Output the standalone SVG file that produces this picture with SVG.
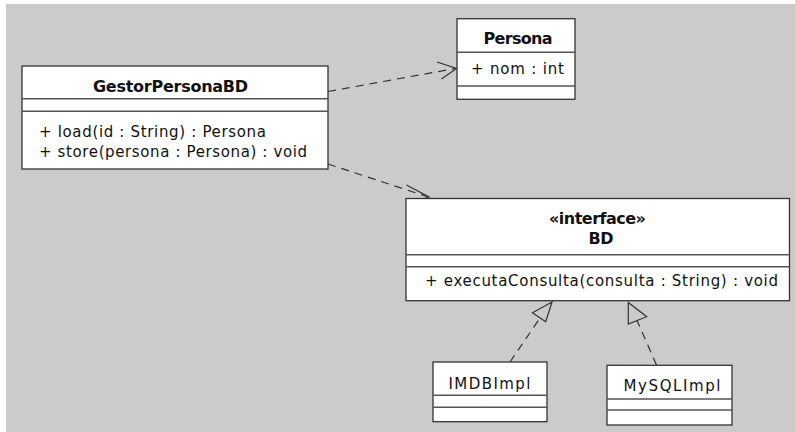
<svg xmlns="http://www.w3.org/2000/svg" width="795" height="432" viewBox="0 0 795 432">
  <style>
    .bg { fill: #cbcbcb; }
    .box { fill: #ffffff; stroke: #333333; stroke-width: 1.3; }
    .sep { stroke: #555555; stroke-width: 1.6; fill: none; }
    .dash { stroke: #333333; stroke-width: 1.2; fill: none; stroke-dasharray: 8 6; }
    .open { stroke: #333333; stroke-width: 1.2; fill: none; }
    .tri { stroke: #333333; stroke-width: 1.2; fill: #cbcbcb; }
    text { font-family: "DejaVu Sans", "Open Sans", sans-serif; fill: #111111; font-size: 15px; }
    .title { font-weight: bold; font-size: 16px; text-anchor: middle; }
    .name { text-anchor: middle; }
  </style>
  <rect x="0" y="0" width="795" height="432" fill="#ffffff"/>
  <rect class="bg" x="6" y="4" width="789" height="428"/>

  <g id="connectors">
    <!-- dependency GestorPersonaBD -> Persona -->
    <line class="dash" x1="328" y1="91.5" x2="455" y2="68.5"/>
    <polyline class="open" points="437,62 456.5,68.5 441.5,79"/>
    <!-- dependency GestorPersonaBD -> BD -->
    <line class="dash" x1="328" y1="164" x2="427" y2="196.5"/>
    <polyline class="open" points="406.5,185 429,197 413,202.5"/>
    <!-- realization IMDBImpl -> BD -->
    <line class="dash" x1="510" y1="362" x2="540" y2="318"/>
    <polygon class="tri" points="552,302 532.5,312.7 545.7,321.7"/>
    <!-- realization MySQLImpl -> BD -->
    <line class="dash" x1="656.5" y1="365" x2="637" y2="320.5"/>
    <polygon class="tri" points="628.3,302.5 628.3,324 646.7,316.7"/>
  </g>

  <g id="GestorPersonaBD">
    <rect class="box" x="22" y="66" width="306" height="103"/>
    <line class="sep" x1="22" y1="98.7" x2="328" y2="98.7"/>
    <line class="sep" x1="22" y1="111.3" x2="328" y2="111.3"/>
    <text class="title" x="170.5" y="91.7" textLength="155">GestorPersonaBD</text>
    <text>
      <tspan x="39" y="136.7" textLength="227">+ load(id : String) : Persona</tspan>
      <tspan x="39" y="156.7" textLength="268">+ store(persona : Persona) : void</tspan>
    </text>
  </g>

  <g id="Persona">
    <rect class="box" x="457" y="18.7" width="118" height="80.6"/>
    <line class="sep" x1="457" y1="52.3" x2="575" y2="52.3"/>
    <line class="sep" x1="457" y1="86" x2="575" y2="86"/>
    <text class="title" x="518" y="43.7" textLength="69">Persona</text>
    <text x="471" y="74" textLength="93">+ nom : int</text>
  </g>

  <g id="BD">
    <rect class="box" x="406" y="198.5" width="383.5" height="102.2"/>
    <line class="sep" x1="406" y1="254.7" x2="789.5" y2="254.7"/>
    <line class="sep" x1="406" y1="266.7" x2="789.5" y2="266.7"/>
    <text class="title">
      <tspan x="600" y="224" textLength="97">«interface»</tspan>
      <tspan x="601" y="244" textLength="25">BD</tspan>
    </text>
    <text x="425" y="285.5" textLength="353">+ executaConsulta(consulta : String) : void</text>
  </g>

  <g id="IMDBImpl">
    <rect class="box" x="433" y="362" width="114" height="59.7"/>
    <line class="sep" x1="433" y1="395.3" x2="547" y2="395.3"/>
    <line class="sep" x1="433" y1="407.3" x2="547" y2="407.3"/>
    <text class="name" x="489.5" y="389.3" textLength="82">IMDBImpl</text>
  </g>

  <g id="MySQLImpl">
    <rect class="box" x="607" y="365.3" width="125" height="59.7"/>
    <line class="sep" x1="607" y1="399" x2="732" y2="399"/>
    <line class="sep" x1="607" y1="410" x2="732" y2="410"/>
    <text class="name" x="672" y="390.5" textLength="97">MySQLImpl</text>
  </g>
</svg>
